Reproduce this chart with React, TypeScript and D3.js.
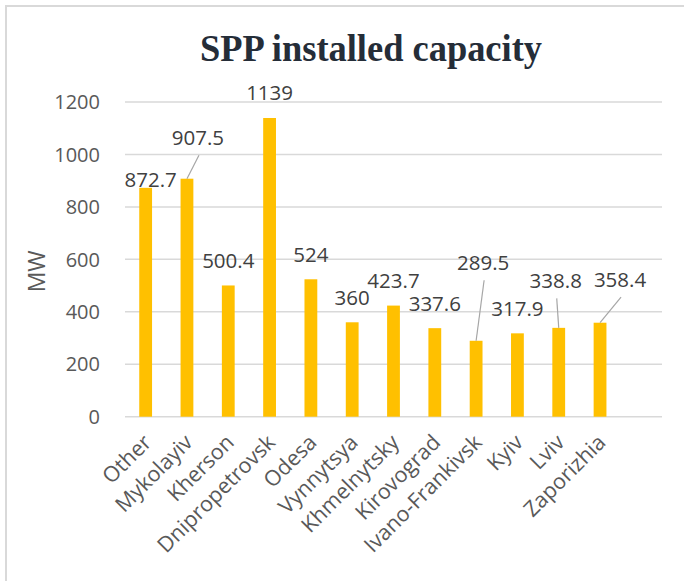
import { scaleBand, scaleLinear } from 'd3'

const regions = [
  'Other', 'Mykolayiv', 'Kherson', 'Dnipropetrovsk', 'Odesa', 'Vynnytsya',
  'Khmelnytsky', 'Kirovograd', 'Ivano-Frankivsk', 'Kyiv', 'Lviv', 'Zaporizhia', ''
]
const capacity = [872.7, 907.5, 500.4, 1139, 524, 360, 423.7, 337.6, 289.5, 317.9, 338.8, 358.4, null]
const labels = ['872.7', '907.5', '500.4', '1139', '524', '360', '423.7', '337.6', '289.5', '317.9', '338.8', '358.4', '']
const yTicks = [0, 200, 400, 600, 800, 1000, 1200]

// labels that were dragged off their default spot in the original (px shift)
const labelShift: Record<string, [number, number, boolean]> = {
  Other: [5, 17, false],
  Mykolayiv: [11, -16, true],
  'Ivano-Frankivsk': [7, -53, true],
  Lviv: [-3, -22, true],
  Zaporizhia: [20, -18, true],
}

const width = 684
const height = 581
const left = 125
const right = 662
const top = 102
const bottom = 416.7

const font = '"Open Sans", sans-serif'

function App() {
  const x = scaleBand()
    .domain(regions)
    .range([left, right])
    .paddingInner(0.69)
    .paddingOuter(0.345)

  const y = scaleLinear().domain([0, 1200]).range([bottom, top])

  return (
    <svg width={width} height={height} style={{ position: 'absolute', left: 0, top: 0, background: '#fff' }}>
      <rect x={6} y={6} width={width + 10} height={height + 10} fill="none" stroke="#d9d9d9" strokeWidth={2} />

      <text
        x={371}
        y={61}
        textAnchor="middle"
        textLength={342}
        lengthAdjust="spacingAndGlyphs"
        fontFamily='"Liberation Serif", serif'
        fontWeight="bold"
        fontSize={38}
        fill="#252d38"
      >SPP installed capacity</text>

      {yTicks.map(t => (
        <g key={t}>
          <line x1={left} x2={right} y1={y(t)} y2={y(t)} stroke="#d9d9d9" strokeWidth={1.5} />
          <text x={100} y={y(t)} dy="0.36em" textAnchor="end" fontFamily={font} fontSize={20} fill="#595959">{t}</text>
        </g>
      ))}

      <text
        transform={`translate(45, ${(top + bottom) / 2 + 12}) rotate(-90)`}
        textAnchor="middle"
        fontFamily={font}
        fontSize={23}
        fill="#595959"
      >MW</text>

      {regions.map((r, i) => {
        const v = capacity[i]
        if (v == null) return null
        const bx = x(r)!
        const cx = bx + x.bandwidth() / 2
        const shift = labelShift[r] || [0, 0, false]
        const lx = cx + shift[0]
        const ly = y(v) - 17.5 + shift[1]
        return (
          <g key={r}>
            <rect x={bx} y={y(v)} width={x.bandwidth()} height={bottom - y(v)} fill="#ffc000" />
            {shift[2] && (
              <line x1={lx + 1} y1={ly + 10} x2={cx} y2={y(v)} stroke="#a6a6a6" strokeWidth={1.2} />
            )}
            <text x={lx} y={ly} textAnchor="middle" fontFamily={font} fontSize={20.5} fill="#404040">{labels[i]}</text>
          </g>
        )
      })}

      {regions.map(r => (
        <text
          key={'c' + r}
          transform={`translate(${x(r)! + x.bandwidth() / 2 + 7}, ${bottom + 27}) rotate(-45)`}
          textAnchor="end"
          fontFamily={font}
          fontSize={21.5}
          fill="#595959"
        >{r}</text>
      ))}
    </svg>
  )
}

export default App
